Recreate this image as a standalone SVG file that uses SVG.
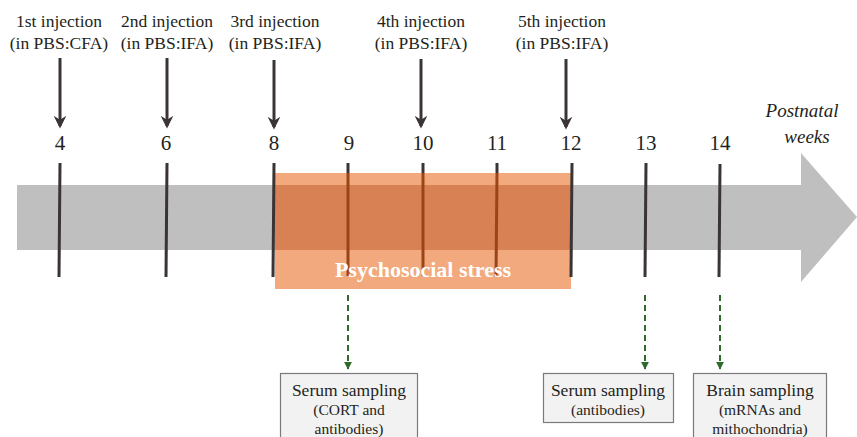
<svg xmlns="http://www.w3.org/2000/svg" width="857" height="437" viewBox="0 0 857 437">
  <style>
    text { font-family: "Liberation Serif", "Times New Roman", serif; fill: #231f20; }
    .inj { font-size: 17.5px; text-anchor: middle; }
    .num { font-size: 21px; text-anchor: middle; }
    .axis { font-size: 19px; font-style: italic; text-anchor: middle; }
    .tick { stroke: #3b3434; stroke-width: 3; }
    .tick-in { stroke: #9a4418; stroke-width: 3; }
    .inj-arrow { stroke: #3b3434; stroke-width: 3; fill: none; marker-end: url(#blackHead); }
    .sample { stroke: #2f6a2a; stroke-width: 2; stroke-dasharray: 6 4; fill: none; marker-end: url(#greenHead); }
    .box { fill: #f2f2f2; stroke: #7a7a7a; stroke-width: 1.2; }
    .box-title { font-size: 17.5px; text-anchor: middle; }
    .box-sub { font-size: 15.5px; text-anchor: middle; }
    .stress { font-size: 22px; font-weight: bold; fill: #ffffff; text-anchor: middle; }
  </style>
  <defs>
    <marker id="blackHead" viewBox="0 0 10 10" refX="8" refY="5" markerWidth="4.2" markerHeight="4.2" orient="auto" markerUnits="strokeWidth">
      <path d="M0,0 L10,5 L0,10 L3,5 Z" fill="#3b3434"/>
    </marker>
    <marker id="greenHead" viewBox="0 0 10 10" refX="9" refY="5" markerWidth="4" markerHeight="4" orient="auto" markerUnits="strokeWidth">
      <path d="M0,0 L10,5 L0,10 Z" fill="#2f6a2a"/>
    </marker>
  </defs>

  <!-- timeline arrow -->
  <g id="timeline">
    <polygon points="17,185 801,185 801,153 857,217 801,282 801,250 17,250" fill="#c0bfbf"/>
  </g>

  <!-- week labels and tick marks -->
  <g id="weeks">
    <text class="num" x="60" y="150">4</text>
    <text class="num" x="166" y="150">6</text>
    <text class="num" x="274" y="150">8</text>
    <text class="num" x="349" y="150">9</text>
    <text class="num" x="423" y="150">10</text>
    <text class="num" x="497" y="150">11</text>
    <text class="num" x="571" y="150">12</text>
    <text class="num" x="646" y="150">13</text>
    <text class="num" x="720" y="150">14</text>
    <line class="tick" x1="60" y1="163" x2="59" y2="277"/>
    <line class="tick" x1="167" y1="163" x2="166" y2="277"/>
    <line class="tick" x1="348" y1="163" x2="348" y2="174"/>
    <line class="tick" x1="423" y1="163" x2="423" y2="174"/>
    <line class="tick" x1="497" y1="163" x2="497" y2="174"/>
    <line class="tick" x1="646" y1="163" x2="645" y2="277"/>
    <line class="tick" x1="720" y1="164" x2="719" y2="277"/>
    <text class="axis" x="802" y="117">Postnatal</text>
    <text class="axis" x="807" y="143">weeks</text>
  </g>

  <!-- psychosocial stress period, weeks 8 to 12 -->
  <g id="stress">
    <rect x="275" y="173" width="296" height="116" fill="#f2a97d"/>
    <rect x="275" y="185" width="296" height="65" fill="#d78154"/>
    <line class="tick-in" x1="348" y1="173" x2="348" y2="276"/>
    <line class="tick-in" x1="423" y1="173" x2="423" y2="276"/>
    <line class="tick-in" x1="497" y1="173" x2="496" y2="277"/>
    <line class="tick" x1="274" y1="163" x2="273" y2="277"/>
    <line class="tick" x1="572" y1="163" x2="571" y2="277"/>
    <text class="stress" x="423" y="277">Psychosocial stress</text>
  </g>

  <!-- injection labels -->
  <g id="inj1">
    <text class="inj" x="59" y="27">1st injection</text>
    <text class="inj" x="59" y="49">(in PBS:CFA)</text>
  </g>
  <g id="inj2">
    <text class="inj" x="167" y="27">2nd injection</text>
    <text class="inj" x="167" y="49">(in PBS:IFA)</text>
  </g>
  <g id="inj3">
    <text class="inj" x="275" y="27">3rd injection</text>
    <text class="inj" x="275" y="49">(in PBS:IFA)</text>
  </g>
  <g id="inj4">
    <text class="inj" x="421" y="27">4th injection</text>
    <text class="inj" x="421" y="49">(in PBS:IFA)</text>
  </g>
  <g id="inj5">
    <text class="inj" x="562" y="27">5th injection</text>
    <text class="inj" x="562" y="49">(in PBS:IFA)</text>
  </g>

  <!-- sampling boxes -->
  <g id="serum1">
    <rect class="box" x="280.5" y="373.5" width="137" height="70"/>
    <text class="box-title" x="349" y="396">Serum sampling</text>
    <text class="box-sub" x="349" y="415">(CORT and</text>
    <text class="box-sub" x="349" y="434">antibodies)</text>
  </g>
  <g id="serum2">
    <rect class="box" x="543.5" y="373.5" width="130" height="49"/>
    <text class="box-title" x="608" y="396">Serum sampling</text>
    <text class="box-sub" x="608" y="415">(antibodies)</text>
  </g>
  <g id="brain">
    <rect class="box" x="693.5" y="373.5" width="133" height="70"/>
    <text class="box-title" x="760" y="396">Brain sampling</text>
    <text class="box-sub" x="760" y="415">(mRNAs and</text>
    <text class="box-sub" x="760" y="434">mithochondria)</text>
  </g>

  <!-- connectors -->
  <g id="connectors">
    <line class="inj-arrow" x1="60" y1="58" x2="60" y2="126"/>
    <line class="inj-arrow" x1="167" y1="58" x2="167" y2="126"/>
    <line class="inj-arrow" x1="274" y1="60" x2="274" y2="127"/>
    <line class="inj-arrow" x1="421" y1="59" x2="421" y2="126"/>
    <line class="inj-arrow" x1="566" y1="59" x2="566" y2="127"/>
    <line class="sample" x1="348" y1="295" x2="348" y2="369"/>
    <line class="sample" x1="645" y1="295" x2="645" y2="369"/>
    <line class="sample" x1="720" y1="295" x2="720" y2="369"/>
  </g>
</svg>
